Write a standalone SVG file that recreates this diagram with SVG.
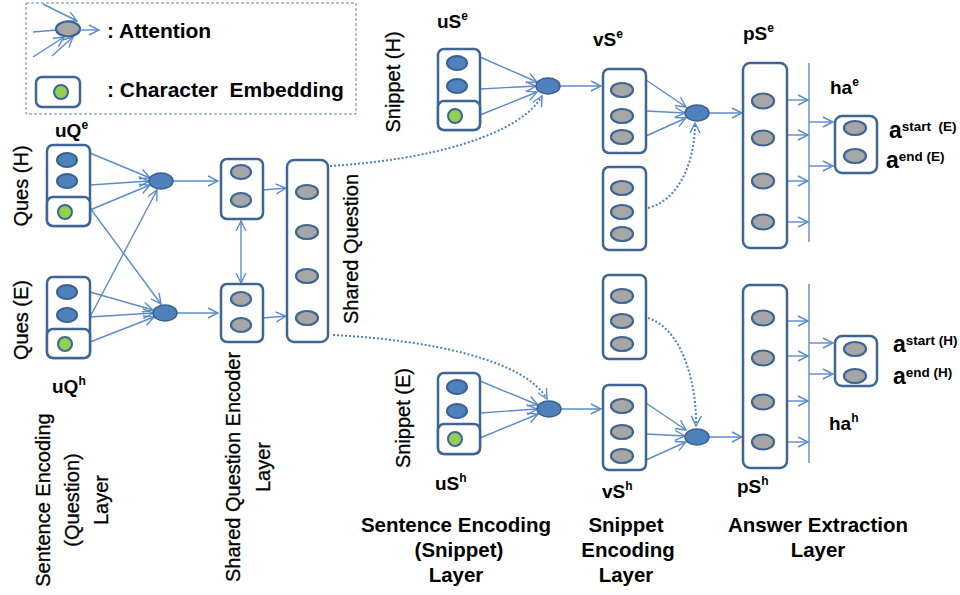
<svg xmlns="http://www.w3.org/2000/svg" width="960" height="595" viewBox="0 0 960 595">
<style>
.box{fill:#fff;stroke:#3f6594;stroke-width:2.5}
.g{fill:#a6a6a6;stroke:#3f6594;stroke-width:2.2}
.b{fill:#4f81bd;stroke:#3a6190;stroke-width:2}
.gr{fill:#92d050;stroke:#3f6594;stroke-width:2}
.att{fill:#4f81bd;stroke:#3a6190;stroke-width:1.5}
.ln{stroke:#5b8cc8;stroke-width:1.4;fill:none}
.ar{marker-end:url(#arr)}
.dot{stroke:#4f81bd;stroke-width:2;stroke-dasharray:2 2;fill:none;marker-end:url(#arr)}
text{font-family:"Liberation Sans",Arial,sans-serif;fill:#000}
.lb{font-weight:bold;font-size:19px}
.sup{font-size:12px;font-weight:bold}
.rt{font-size:20px;stroke:#000;stroke-width:0.3}
.bt{font-weight:bold;font-size:20.5px}
.lg{font-weight:bold;font-size:21px}
.big{font-weight:bold;font-size:23px}
.sup2{font-size:13.5px;font-weight:bold}
</style>
<defs>
<marker id="arr" viewBox="0 0 12 12" refX="11" refY="6" markerWidth="12" markerHeight="12" markerUnits="userSpaceOnUse" orient="auto-start-reverse">
<path d="M1,1 L11,6 L1,11" fill="none" stroke="#5b8cc8" stroke-width="1.4"/>
</marker>
</defs>
<rect width="960" height="595" fill="#fff"/>

<g id="legend">
<rect x="26" y="3" width="330" height="111" fill="none" stroke="#6d84a8" stroke-width="1" stroke-dasharray="3 2"/>
<line class="ln ar" x1="43" y1="4" x2="77" y2="21"/>
<line class="ln" x1="33" y1="32" x2="57" y2="30"/>
<line class="ln ar" x1="33" y1="57" x2="64" y2="37"/>
<line class="ln ar" x1="52" y1="56" x2="73" y2="37"/>
<ellipse class="g" cx="68" cy="29" rx="12" ry="7.5"/>
<line class="ln ar" x1="80" y1="30" x2="99" y2="30"/>
<text class="lg" x="107" y="38">: Attention</text>
<rect class="box" x="36" y="77" width="44" height="30" rx="6"/>
<circle class="gr" cx="61" cy="92" r="7"/>
<text class="lg" x="107" y="97" xml:space="preserve">: Character  Embedding</text>
</g>

<g id="connectors">
<line class="ln ar" x1="90" y1="153" x2="150" y2="178"/>
<line class="ln ar" x1="90" y1="185" x2="149" y2="181"/>
<line class="ln ar" x1="90" y1="210" x2="150" y2="185"/>
<line class="ln ar" x1="90" y1="208" x2="161" y2="304"/>
<line class="ln ar" x1="90" y1="292" x2="153" y2="310"/>
<line class="ln ar" x1="90" y1="317" x2="153" y2="313"/>
<line class="ln ar" x1="90" y1="342" x2="154" y2="317"/>
<line class="ln ar" x1="90" y1="317" x2="157" y2="190"/>
<line class="ln ar" x1="173" y1="181" x2="218" y2="181"/>
<line class="ln ar" x1="177" y1="313" x2="218" y2="313"/>
<line class="ln ar" x1="263" y1="190" x2="286" y2="188"/>
<line class="ln ar" x1="263" y1="318" x2="286" y2="316"/>
<line class="ln ar" x1="241" y1="221" x2="241" y2="283" marker-start="url(#arr)"/>
<path class="dot" d="M330,166 C430,160 520,135 542,96"/>
<path class="dot" d="M333,335 C430,340 525,360 547,399"/>
<line class="ln ar" x1="480" y1="57" x2="537" y2="82"/>
<line class="ln ar" x1="480" y1="89" x2="536" y2="86"/>
<line class="ln ar" x1="480" y1="115" x2="537" y2="92"/>
<line class="ln ar" x1="560" y1="86" x2="601" y2="86"/>
<line class="ln ar" x1="646" y1="80" x2="686" y2="107"/>
<line class="ln ar" x1="646" y1="111" x2="685" y2="113"/>
<line class="ln ar" x1="646" y1="136" x2="686" y2="118"/>
<path class="dot" d="M648,208 C680,200 695,160 695,123"/>
<line class="ln ar" x1="709" y1="113" x2="742" y2="113"/>
<line class="ln ar" x1="788" y1="100" x2="808" y2="100"/>
<line class="ln ar" x1="788" y1="135" x2="808" y2="135"/>
<line class="ln ar" x1="788" y1="181" x2="808" y2="181"/>
<line class="ln ar" x1="788" y1="222" x2="808" y2="222"/>
<line class="ln" x1="809" y1="63" x2="809" y2="242"/>
<line class="ln ar" x1="809" y1="122" x2="833" y2="122"/>
<line class="ln ar" x1="809" y1="166" x2="833" y2="166"/>
<line class="ln ar" x1="480" y1="381" x2="538" y2="405"/>
<line class="ln ar" x1="480" y1="413" x2="537" y2="409"/>
<line class="ln ar" x1="480" y1="438" x2="538" y2="414"/>
<line class="ln ar" x1="561" y1="409" x2="601" y2="409"/>
<line class="ln ar" x1="646" y1="403" x2="686" y2="430"/>
<line class="ln ar" x1="646" y1="434" x2="685" y2="436"/>
<line class="ln ar" x1="646" y1="460" x2="686" y2="442"/>
<path class="dot" d="M648,318 C685,330 697,390 696,426"/>
<line class="ln ar" x1="709" y1="437" x2="742" y2="437"/>
<line class="ln ar" x1="788" y1="321" x2="808" y2="321"/>
<line class="ln ar" x1="788" y1="356" x2="808" y2="356"/>
<line class="ln ar" x1="788" y1="401" x2="808" y2="401"/>
<line class="ln ar" x1="788" y1="442" x2="808" y2="442"/>
<line class="ln" x1="809" y1="284" x2="809" y2="463"/>
<line class="ln ar" x1="809" y1="343" x2="833" y2="343"/>
<line class="ln ar" x1="809" y1="374" x2="833" y2="374"/>
</g>

<g id="quesH">
<rect class="box" x="47" y="145" width="43" height="81" rx="6"/>
<rect class="box" x="47" y="197" width="43" height="29" rx="6"/>
<ellipse class="b" cx="67" cy="160" rx="10" ry="7"/>
<ellipse class="b" cx="67" cy="181" rx="10" ry="7"/>
<circle class="gr" cx="65" cy="212" r="7"/>
<text class="lb" x="55" y="137">uQ<tspan class="sup" dy="-8">e</tspan></text>
<text class="rt" transform="translate(28,186) rotate(-90)" text-anchor="middle">Ques (H)</text>
</g>

<g id="quesE">
<rect class="box" x="47" y="277" width="43" height="81" rx="6"/>
<rect class="box" x="47" y="329" width="43" height="29" rx="6"/>
<ellipse class="b" cx="67" cy="292" rx="10" ry="7"/>
<ellipse class="b" cx="67" cy="315" rx="10" ry="7"/>
<circle class="gr" cx="65" cy="344" r="7"/>
<text class="lb" x="52" y="393">uQ<tspan class="sup" dy="-8">h</tspan></text>
<text class="rt" transform="translate(28,320) rotate(-90)" text-anchor="middle">Ques (E)</text>
</g>

<g id="attnQ1"><ellipse class="att" cx="161" cy="181" rx="12" ry="8"/></g>
<g id="attnQ2"><ellipse class="att" cx="165" cy="313" rx="12" ry="8"/></g>

<g id="encTop">
<rect class="box" x="221" y="159" width="42" height="60" rx="6"/>
<ellipse class="g" cx="241" cy="172" rx="10" ry="7"/>
<ellipse class="g" cx="241" cy="200" rx="10" ry="7"/>
</g>
<g id="encBottom">
<rect class="box" x="221" y="284" width="42" height="58" rx="6"/>
<ellipse class="g" cx="241" cy="299" rx="10" ry="7"/>
<ellipse class="g" cx="241" cy="325" rx="10" ry="7"/>
</g>

<g id="sharedQ">
<rect class="box" x="287" y="160" width="41" height="182" rx="7"/>
<ellipse class="g" cx="307" cy="192" rx="11" ry="7"/>
<ellipse class="g" cx="307" cy="232" rx="11" ry="7"/>
<ellipse class="g" cx="307" cy="276" rx="11" ry="7"/>
<ellipse class="g" cx="307" cy="318" rx="11" ry="7"/>
<text class="rt" transform="translate(358,249) rotate(-90)" text-anchor="middle">Shared Question</text>
</g>

<g id="snippetH">
<rect class="box" x="438" y="49" width="42" height="81" rx="6"/>
<rect class="box" x="438" y="101" width="42" height="29" rx="6"/>
<ellipse class="b" cx="457" cy="63" rx="10" ry="7"/>
<ellipse class="b" cx="457" cy="86" rx="10" ry="7"/>
<circle class="gr" cx="455" cy="116" r="7"/>
<text class="lb" x="437" y="28">uS<tspan class="sup" dy="-8">e</tspan></text>
<text class="rt" transform="translate(400,82) rotate(-90)" text-anchor="middle">Snippet (H)</text>
</g>
<g id="attnS1"><ellipse class="att" cx="548" cy="86" rx="12" ry="8"/></g>

<g id="vSe">
<rect class="box" x="603" y="69" width="43" height="84" rx="6"/>
<ellipse class="g" cx="622" cy="90" rx="11" ry="7"/>
<ellipse class="g" cx="622" cy="116" rx="11" ry="7"/>
<ellipse class="g" cx="622" cy="137" rx="11" ry="7"/>
<text class="lb" x="593" y="46">vS<tspan class="sup" dy="-8">e</tspan></text>
</g>
<g id="vSeOther">
<rect class="box" x="603" y="167" width="43" height="83" rx="6"/>
<ellipse class="g" cx="622" cy="188" rx="11" ry="7"/>
<ellipse class="g" cx="622" cy="212" rx="11" ry="7"/>
<ellipse class="g" cx="622" cy="234" rx="11" ry="7"/>
</g>
<g id="attnP1"><ellipse class="att" cx="697" cy="113" rx="12" ry="8"/></g>

<g id="pSe">
<rect class="box" x="743" y="63" width="44" height="185" rx="7"/>
<ellipse class="g" cx="763" cy="101" rx="11" ry="7.5"/>
<ellipse class="g" cx="763" cy="138" rx="11" ry="7.5"/>
<ellipse class="g" cx="763" cy="181" rx="11" ry="7.5"/>
<ellipse class="g" cx="763" cy="222" rx="11" ry="7.5"/>
<text class="lb" x="743" y="40">pS<tspan class="sup" dy="-8">e</tspan></text>
</g>

<g id="hae">
<rect class="box" x="835" y="116" width="42" height="57" rx="7"/>
<ellipse class="g" cx="855" cy="128" rx="11" ry="7"/>
<ellipse class="g" cx="855" cy="156" rx="11" ry="7"/>
<text class="lb" x="830" y="94">ha<tspan class="sup" dy="-8">e</tspan></text>
<text class="big" x="889" y="138">a<tspan class="sup2" dy="-7" xml:space="preserve">start  (E)</tspan></text>
<text class="big" x="886" y="168">a<tspan class="sup2" dy="-7">end (E)</tspan></text>
</g>

<g id="snippetE">
<rect class="box" x="438" y="373" width="42" height="81" rx="6"/>
<rect class="box" x="438" y="424" width="42" height="30" rx="6"/>
<ellipse class="b" cx="457" cy="387" rx="10" ry="7"/>
<ellipse class="b" cx="457" cy="411" rx="10" ry="7"/>
<circle class="gr" cx="455" cy="439" r="7"/>
<text class="lb" x="435" y="490">uS<tspan class="sup" dy="-8">h</tspan></text>
<text class="rt" transform="translate(410,418) rotate(-90)" text-anchor="middle">Snippet (E)</text>
</g>
<g id="attnS2"><ellipse class="att" cx="549" cy="409" rx="12" ry="8"/></g>

<g id="vShOther">
<rect class="box" x="603" y="275" width="43" height="84" rx="6"/>
<ellipse class="g" cx="622" cy="296" rx="11" ry="7"/>
<ellipse class="g" cx="622" cy="321" rx="11" ry="7"/>
<ellipse class="g" cx="622" cy="344" rx="11" ry="7"/>
</g>
<g id="vSh">
<rect class="box" x="603" y="385" width="43" height="85" rx="6"/>
<ellipse class="g" cx="622" cy="406" rx="11" ry="7"/>
<ellipse class="g" cx="622" cy="432" rx="11" ry="7"/>
<ellipse class="g" cx="622" cy="456" rx="11" ry="7"/>
<text class="lb" x="602" y="498">vS<tspan class="sup" dy="-8">h</tspan></text>
</g>
<g id="attnP2"><ellipse class="att" cx="697" cy="437" rx="12" ry="8"/></g>

<g id="pSh">
<rect class="box" x="743" y="285" width="44" height="183" rx="7"/>
<ellipse class="g" cx="763" cy="318" rx="11" ry="7.5"/>
<ellipse class="g" cx="763" cy="358" rx="11" ry="7.5"/>
<ellipse class="g" cx="763" cy="402" rx="11" ry="7.5"/>
<ellipse class="g" cx="763" cy="442" rx="11" ry="7.5"/>
<text class="lb" x="737" y="493">pS<tspan class="sup" dy="-8">h</tspan></text>
</g>

<g id="hah">
<rect class="box" x="835" y="336" width="42" height="50" rx="7"/>
<ellipse class="g" cx="855" cy="349" rx="11" ry="7"/>
<ellipse class="g" cx="855" cy="376" rx="11" ry="7"/>
<text class="lb" x="829" y="430">ha<tspan class="sup" dy="-8">h</tspan></text>
<text class="big" x="893" y="352">a<tspan class="sup2" dy="-7">start (H)</tspan></text>
<text class="big" x="893" y="384">a<tspan class="sup2" dy="-7">end (H)</tspan></text>
</g>

<g id="layerLabels">
<text class="rt" transform="translate(50,500) rotate(-90)" text-anchor="middle">Sentence Encoding</text>
<text class="rt" transform="translate(79,500) rotate(-90)" text-anchor="middle">(Question)</text>
<text class="rt" transform="translate(108,500) rotate(-90)" text-anchor="middle">Layer</text>
<text class="rt" transform="translate(240,467) rotate(-90)" text-anchor="middle">Shared Question Encoder</text>
<text class="rt" transform="translate(270,467) rotate(-90)" text-anchor="middle">Layer</text>
<text class="bt" x="456" y="532" text-anchor="middle">Sentence Encoding</text>
<text class="bt" x="459" y="557" text-anchor="middle">(Snippet)</text>
<text class="bt" x="456" y="582" text-anchor="middle">Layer</text>
<text class="bt" x="626" y="532" text-anchor="middle">Snippet</text>
<text class="bt" x="628" y="557" text-anchor="middle">Encoding</text>
<text class="bt" x="626" y="582" text-anchor="middle">Layer</text>
<text class="bt" x="818" y="532" text-anchor="middle">Answer Extraction</text>
<text class="bt" x="818" y="557" text-anchor="middle">Layer</text>
</g>
</svg>
